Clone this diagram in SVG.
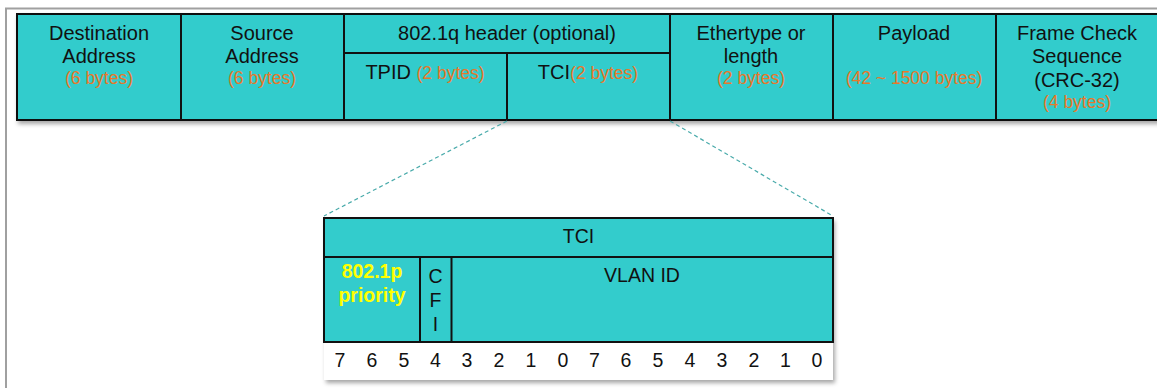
<svg xmlns="http://www.w3.org/2000/svg" width="1157" height="388" viewBox="0 0 1157 388">
<defs>
<filter id="sh" x="-5%" y="-10%" width="110%" height="130%">
<feDropShadow dx="2" dy="3" stdDeviation="2" flood-color="#000" flood-opacity="0.35"/>
</filter>
<style>
.c{fill:#33CCCC;stroke:#111;stroke-width:2}
.t{font-family:"Liberation Sans",Arial,sans-serif;font-size:20px;fill:#111;text-anchor:middle}
.b{font-family:"Liberation Sans",Arial,sans-serif;font-size:19.5px;fill:#111;text-anchor:middle}
.o{font-family:"Liberation Sans",Arial,sans-serif;font-size:17.5px;fill:#E8782A}
.y{font-family:"Liberation Sans",Arial,sans-serif;font-size:19.5px;font-weight:bold;fill:#FFFF00;text-anchor:middle}
.ln{stroke:#111;stroke-width:2;fill:none}
.d{stroke:#4AABAB;stroke-width:1.2;stroke-dasharray:4 3;fill:none}
</style>
</defs>
<rect width="1157" height="388" fill="#fff"/>
<path d="M6,388 V8.5 H1157" fill="none" stroke="#a0a0a0" stroke-width="2"/>

<g id="frame" filter="url(#sh)">
<rect class="c" x="17" y="14" width="1145" height="106"/>
</g>
<g id="dest">
<text class="t" x="99" y="40">Destination</text>
<text class="t" x="99" y="63">Address</text>
<text class="o" x="99" y="84" text-anchor="middle">(6 bytes)</text>
</g>
<g id="src">
<line class="ln" x1="181" y1="14" x2="181" y2="120"/>
<text class="t" x="262" y="40">Source</text>
<text class="t" x="262" y="63">Address</text>
<text class="o" x="262" y="84" text-anchor="middle">(6 bytes)</text>
</g>
<g id="hdr8021q">
<line class="ln" x1="344" y1="14" x2="344" y2="120"/>
<line class="ln" x1="344" y1="53" x2="670" y2="53"/>
<text class="t" x="507" y="40">802.1q header (optional)</text>
</g>
<g id="tpid">
<text class="t" x="425" y="79">TPID <tspan class="o">(2 bytes)</tspan></text>
</g>
<g id="tci">
<line class="ln" x1="507" y1="53" x2="507" y2="120"/>
<text class="t" x="588" y="79">TCI<tspan class="o">(2 bytes)</tspan></text>
</g>
<g id="ethertype">
<line class="ln" x1="670" y1="14" x2="670" y2="120"/>
<text class="t" x="751" y="40">Ethertype or</text>
<text class="t" x="751" y="63">length</text>
<text class="o" x="751" y="84" text-anchor="middle">(2 bytes)</text>
</g>
<g id="payload">
<line class="ln" x1="833" y1="14" x2="833" y2="120"/>
<text class="t" x="914" y="40">Payload</text>
<text class="o" x="914" y="84" text-anchor="middle">(42 ~ 1500 bytes)</text>
</g>
<g id="fcs">
<line class="ln" x1="996" y1="14" x2="996" y2="120"/>
<text class="t" x="1077" y="40">Frame Check</text>
<text class="t" x="1077" y="63">Sequence</text>
<text class="t" x="1077" y="87">(CRC-32)</text>
<text class="o" x="1077" y="108" text-anchor="middle">(4 bytes)</text>
</g>

<g id="connectors">
<line class="d" x1="507" y1="121" x2="324" y2="216"/>
<line class="d" x1="670" y1="121" x2="833" y2="216"/>
</g>

<g id="tci-detail">
<g filter="url(#sh)">
<rect x="324" y="218" width="509" height="162" fill="#fff"/>
</g>
<rect class="c" x="324" y="218" width="509" height="124"/>
<line class="ln" x1="324" y1="257" x2="833" y2="257"/>
<line class="ln" x1="420" y1="257" x2="420" y2="342"/>
<line class="ln" x1="451.5" y1="257" x2="451.5" y2="342"/>
<text class="b" x="578.5" y="243">TCI</text>
</g>
<g id="priority">
<text class="y" x="372" y="278">802.1p</text>
<text class="y" x="372" y="302">priority</text>
</g>
<g id="cfi">
<text class="b" x="435.5" y="283">C</text>
<text class="b" x="435.5" y="307">F</text>
<text class="b" x="435.5" y="331">I</text>
</g>
<g id="vlanid">
<text class="b" x="642" y="282">VLAN ID</text>
</g>
<g id="bits">
<text class="b" x="340" y="367">7</text>
<text class="b" x="372" y="367">6</text>
<text class="b" x="404" y="367">5</text>
<text class="b" x="435.5" y="367">4</text>
<text class="b" x="467" y="367">3</text>
<text class="b" x="499" y="367">2</text>
<text class="b" x="531" y="367">1</text>
<text class="b" x="563" y="367">0</text>
<text class="b" x="594.5" y="367">7</text>
<text class="b" x="626" y="367">6</text>
<text class="b" x="658" y="367">5</text>
<text class="b" x="690" y="367">4</text>
<text class="b" x="722" y="367">3</text>
<text class="b" x="754" y="367">2</text>
<text class="b" x="785.5" y="367">1</text>
<text class="b" x="817" y="367">0</text>
</g>
</svg>
